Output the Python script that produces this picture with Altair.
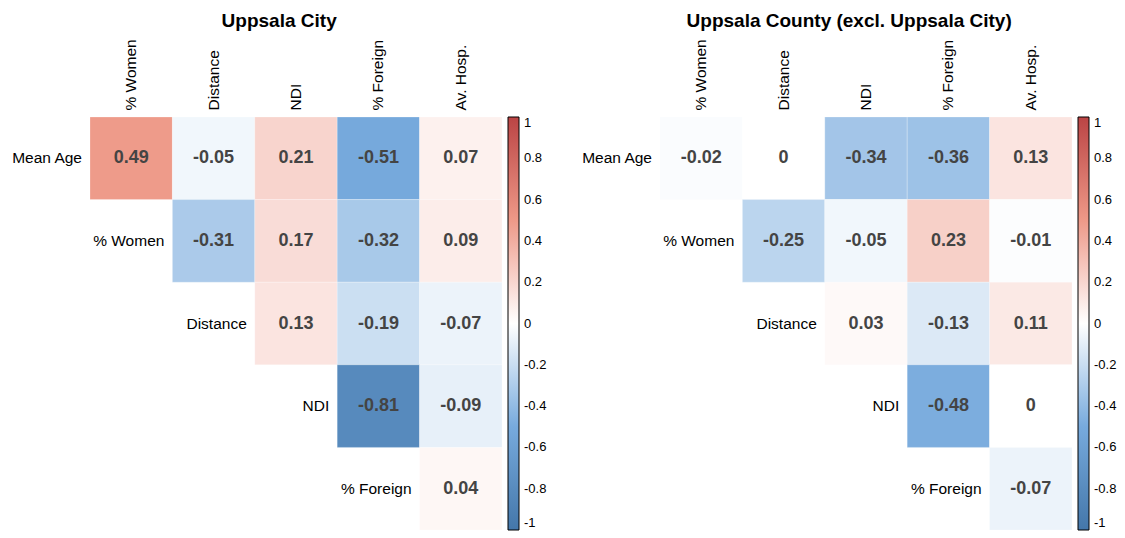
import altair as alt
import pandas as pd

row_vars = ["Mean Age", "% Women", "Distance", "NDI", "% Foreign"]
col_vars = ["% Women", "Distance", "NDI", "% Foreign", "Av. Hosp."]

# Uppsala City (upper triangle, row by row)
city_mean_age = [0.49, -0.05, 0.21, -0.51, 0.07]
city_women = [-0.31, 0.17, -0.32, 0.09]
city_distance = [0.13, -0.19, -0.07]
city_ndi = [-0.81, -0.09]
city_foreign = [0.04]

# Uppsala County (excl. Uppsala City)
county_mean_age = [-0.02, 0, -0.34, -0.36, 0.13]
county_women = [-0.25, -0.05, 0.23, -0.01]
county_distance = [0.03, -0.13, 0.11]
county_ndi = [-0.48, 0]
county_foreign = [-0.07]

legend_ticks = [1, 0.8, 0.6, 0.4, 0.2, 0, -0.2, -0.4, -0.6, -0.8, -1]
color_domain = [-1, -0.5, 0, 0.5, 1]
color_range = ["#4477AA", "#77AADD", "#FFFFFF", "#EE9988", "#BB4444"]

FONT = "Liberation Sans"


def build_cells(rows):
    recs = []
    for i, vals in enumerate(rows):
        for k, v in enumerate(vals):
            recs.append({"row": row_vars[i], "col": col_vars[i + k], "r": v,
                         "label": f"{v:g}"})
    return pd.DataFrame(recs)


def build_rowlabels():
    return pd.DataFrame({"row": row_vars, "col": col_vars})


def panel(rows, title):
    cells = build_cells(rows)
    xsc = alt.Scale(domain=col_vars, paddingInner=0, paddingOuter=0)
    ysc = alt.Scale(domain=row_vars, paddingInner=0, paddingOuter=0)
    rect = alt.Chart(cells).mark_rect(stroke="white", strokeWidth=0.6, strokeOpacity=0.4).encode(
        x=alt.X("col:N", scale=xsc, sort=col_vars,
                axis=alt.Axis(orient="top", labelAngle=270, ticks=False, domain=False,
                              labelPadding=7, title=None, labelFontSize=15.5, labelFont=FONT,
                              labelColor="#000000", labelLimit=200)),
        y=alt.Y("row:N", scale=ysc, sort=row_vars, axis=None),
        color=alt.Color("r:Q", title=None,
                        scale=alt.Scale(domain=color_domain, range=color_range, interpolate="rgb"),
                        legend=alt.Legend(values=legend_ticks, gradientLength=413,
                                          gradientThickness=11, direction="vertical",
                                          orient="right", offset=6, padding=0,
                                          labelFontSize=13, labelFont=FONT, labelColor="#000000",
                                          labelOverlap=False, labelOffset=5,
                                          labelBaseline="middle",
                                          gradientStrokeColor="#000000", gradientStrokeWidth=1,
                                          labelExpr="'' + datum.value")),
    )
    txt = alt.Chart(cells).mark_text(fontSize=18, fontWeight="bold", font=FONT, color="#444444").encode(
        x=alt.X("col:N", scale=xsc, sort=col_vars),
        y=alt.Y("row:N", scale=ysc, sort=row_vars),
        text="label:N",
    )
    lab = alt.Chart(build_rowlabels()).mark_text(fontSize=15.5, font=FONT, align="right",
                                                 dx=-8, color="#000000").encode(
        x=alt.X("col:N", scale=xsc, sort=col_vars, bandPosition=0),
        y=alt.Y("row:N", scale=ysc, sort=row_vars),
        text="row:N",
    )
    return alt.layer(rect, txt, lab).properties(
        width=412, height=413,
        title=alt.TitleParams(title, fontSize=19, fontWeight="bold", font=FONT,
                              color="#000000", anchor="middle", frame="bounds", offset=8),
    )


left = panel([city_mean_age, city_women, city_distance, city_ndi, city_foreign], "Uppsala City")
right = panel([county_mean_age, county_women, county_distance, county_ndi, county_foreign],
              "Uppsala County (excl. Uppsala City)")

chart = alt.hconcat(left, right, spacing=34).resolve_scale(color="independent").properties(
    padding={"left": 3, "top": 3, "right": 0, "bottom": 0}
).configure_view(stroke=None)

chart.save("out.html", embed_options={"renderer": "svg", "actions": False})
